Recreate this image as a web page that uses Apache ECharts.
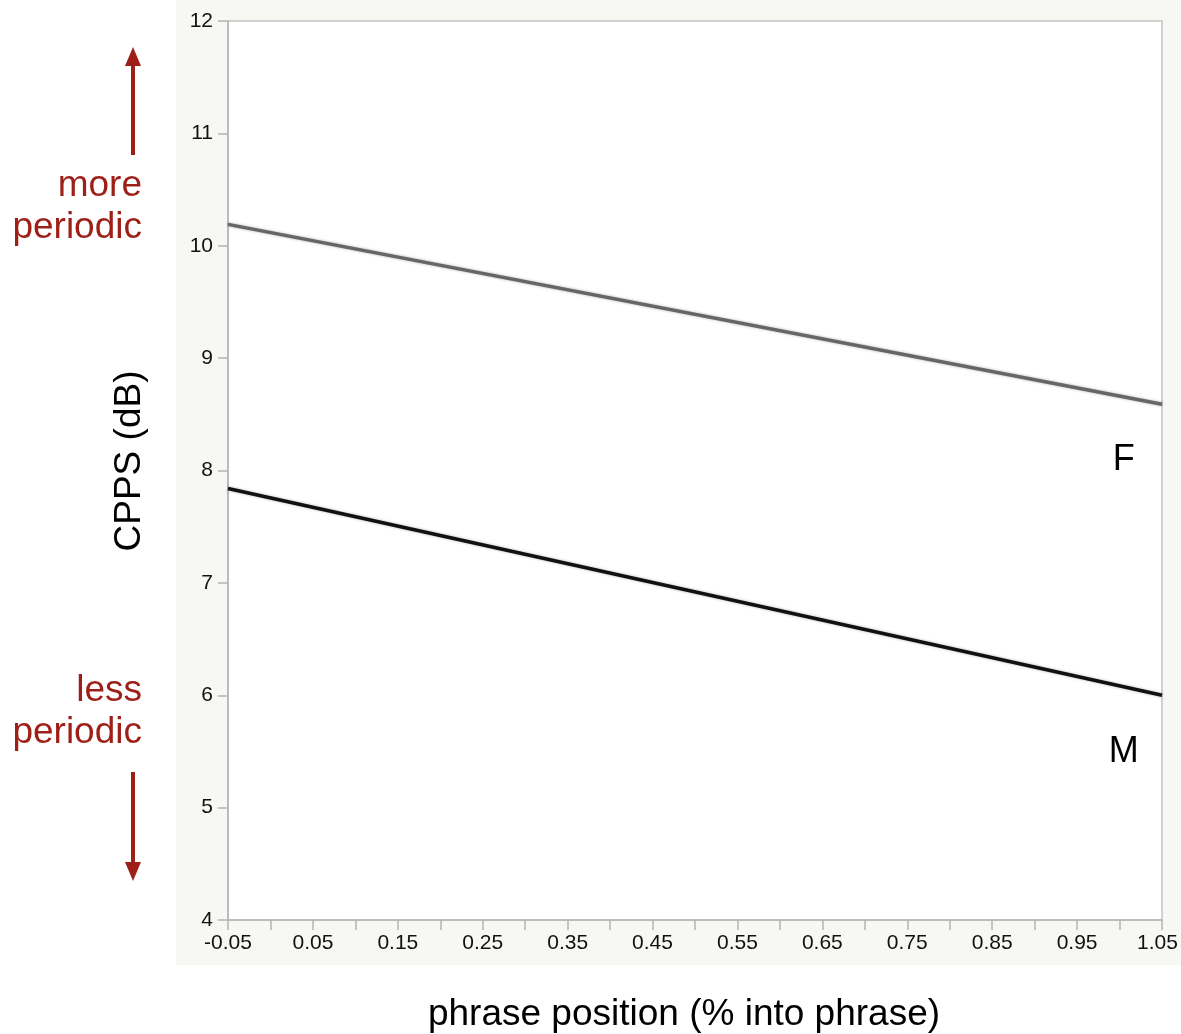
<!DOCTYPE html>
<html><head><meta charset="utf-8">
<script src="https://cdn.jsdelivr.net/npm/echarts@6/dist/echarts.min.js"></script>
<style>html,body{margin:0;padding:0;background:#fff}#c{width:1181px;height:1034px}</style>
</head><body><div id="c"></div>
<script>
const xPositions = [-0.05, 1.05];
const seriesF = [10.19, 8.59];
const seriesM = [7.84, 6.0];
const lineLabels = ['F', 'M'];
const labelPos = [[1.005, 8.09], [1.005, 5.49]];
const yTicks = [4, 5, 6, 7, 8, 9, 10, 11, 12];

const chart = echarts.init(document.getElementById('c'));
const font = 'Liberation Sans, Arial, sans-serif';
const red = '#9e1f17';
chart.setOption({
  backgroundColor: '#fff',
  animation: false,
  graphic: [
    {type: 'rect', z: -10, shape: {x: 176, y: 0, width: 1010, height: 965}, style: {fill: '#f7f7f3'}},
    {type: 'rect', z: -9, shape: {x: 228, y: 21, width: 934, height: 899}, style: {fill: '#ffffff'}},
    {type: 'text', style: {text: 'more\nperiodic', x: 142, y: 165, align: 'right', font: '37px Liberation Sans, Arial', fill: red, lineHeight: 42}},
    {type: 'text', style: {text: 'less\nperiodic', x: 142, y: 670, align: 'right', font: '37px Liberation Sans, Arial', fill: red, lineHeight: 42}},
    {type: 'line', shape: {x1: 133, y1: 155, x2: 133, y2: 66}, style: {stroke: red, lineWidth: 4}},
    {type: 'polygon', shape: {points: [[125, 66], [141, 66], [133, 47]]}, style: {fill: red}},
    {type: 'line', shape: {x1: 133, y1: 772, x2: 133, y2: 862}, style: {stroke: red, lineWidth: 4}},
    {type: 'polygon', shape: {points: [[125, 862], [141, 862], [133, 881]]}, style: {fill: red}},
    {type: 'text', x: 130, y: 461, rotation: Math.PI / 2, style: {text: 'CPPS (dB)', x: 0, y: 0, align: 'center', verticalAlign: 'middle', font: '37px Liberation Sans, Arial', fill: '#000'}},
    {type: 'text', style: {text: 'phrase position (% into phrase)', x: 684, y: 1015, align: 'center', verticalAlign: 'middle', font: '37px Liberation Sans, Arial', fill: '#000'}}
  ],
  grid: {left: 228, right: 19, top: 21, bottom: 114, outerBoundsMode: 'none', containLabel: false, show: true, borderColor: '#c4c4c4', borderWidth: 1.5, backgroundColor: 'transparent'},
  xAxis: {
    type: 'value', min: -0.05, max: 1.05, interval: 0.05,
    axisLine: {show: true, onZero: false, lineStyle: {color: '#b4b4b4', width: 1.5}},
    axisTick: {show: true, length: 10, lineStyle: {color: '#b4b4b4', width: 1.5}},
    splitLine: {show: false},
    axisLabel: {
      color: '#111', fontSize: 21, fontFamily: font, margin: 13, showMinLabel: true, showMaxLabel: true, hideOverlap: false,
      rich: {e: {fontSize: 21, fontFamily: font, color: '#111', padding: [0, 9, 0, 0]}},
      formatter: v => {
        const k = Math.round(v * 100);
        if ((k + 5) % 10 !== 0) return '';
        const s = (k / 100).toFixed(2);
        return k === 105 ? '{e|' + s + '}' : s;
      }
    }
  },
  yAxis: {
    type: 'value', min: yTicks[0], max: yTicks[yTicks.length - 1], interval: 1,
    axisLine: {show: true, onZero: false, lineStyle: {color: '#b4b4b4', width: 1.5}},
    axisTick: {show: true, length: 10, lineStyle: {color: '#b4b4b4', width: 1.5}},
    splitLine: {show: false},
    axisLabel: {color: '#111', fontSize: 21, fontFamily: font, margin: 15}
  },
  series: [
    {type: 'line', data: xPositions.map((x, i) => [x, seriesF[i]]), symbol: 'none',
      lineStyle: {color: '#666', width: 3.5, shadowColor: 'rgba(0,0,0,0.3)', shadowBlur: 3},
      markPoint: {symbol: 'circle', symbolSize: 0, data: [{coord: labelPos[0], label: {show: true, formatter: lineLabels[0], color: '#000', fontSize: 36, fontFamily: font}}]}},
    {type: 'line', data: xPositions.map((x, i) => [x, seriesM[i]]), symbol: 'none',
      lineStyle: {color: '#111', width: 3.5, shadowColor: 'rgba(0,0,0,0.3)', shadowBlur: 3},
      markPoint: {symbol: 'circle', symbolSize: 0, data: [{coord: labelPos[1], label: {show: true, formatter: lineLabels[1], color: '#000', fontSize: 36, fontFamily: font}}]}}
  ]
});
</script></body></html>
